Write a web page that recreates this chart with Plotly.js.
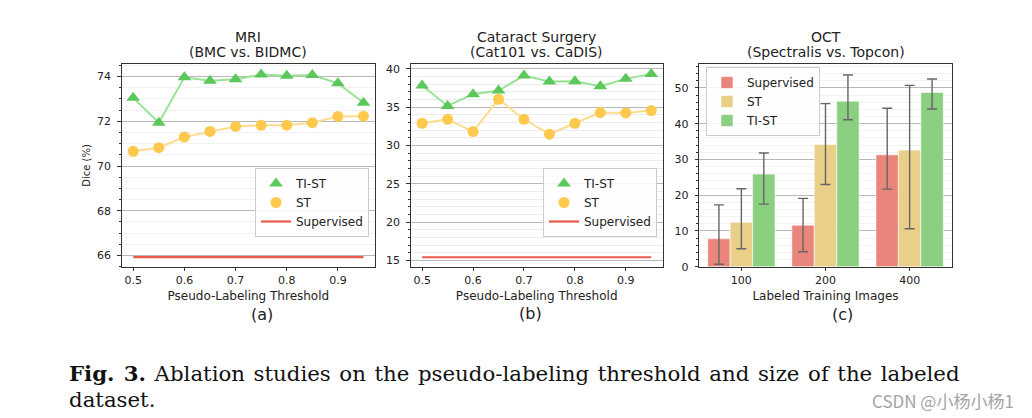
<!DOCTYPE html>
<html>
<head>
<meta charset="utf-8">
<script src="https://cdn.plot.ly/plotly-3.0.1.min.js"></script>
<style>
html,body{margin:0;padding:0;background:#fff;}
#chart{width:1032px;height:418px;}
</style>
</head>
<body>
<div id="chart"></div>
<script>
// ---------- data ----------
const thresholds = [0.5, 0.55, 0.6, 0.65, 0.7, 0.75, 0.8, 0.85, 0.9, 0.95];
const thresholdTicks = [0.5, 0.6, 0.7, 0.8, 0.9];
const thresholdTickText = ['0.5', '0.6', '0.7', '0.8', '0.9'];

const mriTIST = [73.05, 71.94, 73.97, 73.82, 73.88, 74.09, 74.04, 74.07, 73.70, 72.83];
const mriST = [70.66, 70.82, 71.30, 71.55, 71.77, 71.82, 71.83, 71.94, 72.22, 72.23];
const mriSupervised = [65.93, 65.93, 65.93, 65.93, 65.93, 65.93, 65.93, 65.93, 65.93, 65.93];
const mriTicks = [66, 68, 70, 72, 74];

const catTIST = [37.83, 35.17, 36.70, 37.17, 39.13, 38.35, 38.39, 37.74, 38.70, 39.35];
const catST = [32.91, 33.43, 31.83, 36.04, 33.43, 31.48, 32.91, 34.30, 34.26, 34.57];
const catSupervised = [15.43, 15.43, 15.43, 15.43, 15.43, 15.43, 15.43, 15.43, 15.43, 15.43];
const catTicks = [15, 20, 25, 30, 35, 40];

const octSizes = ['100', '200', '400'];
const octSupervised = [7.8, 11.6, 31.3];
const octSupervisedErrPlus = [9.5, 7.5, 13.0];
const octSupervisedErrMinus = [7.1, 7.4, 9.6];
const octST = [12.4, 34.2, 32.6];
const octSTErrPlus = [9.4, 11.4, 18.1];
const octSTErrMinus = [7.4, 11.2, 22.0];
const octTIST = [25.9, 46.3, 48.7];
const octTISTErrPlus = [5.9, 7.3, 3.8];
const octTISTErrMinus = [8.4, 5.2, 4.6];
const octTicks = [0, 10, 20, 30, 40, 50];

// ---------- styles ----------
const FONT = 'DejaVu Sans, sans-serif';
const SERIF = 'DejaVu Serif, serif';
const GREEN_M = '#5cc85c', GREEN_L = '#98e294';
const YEL_M = '#ffc94d', YEL_L = '#fcdd90';
const RED_L = '#ec5a4e';
const BAR_RED = '#e9857b', BAR_YEL = '#eacf88', BAR_GRN = '#8bcf80';
const SPINE = '#333333';
const TXT = '#222222';

function lineTraces(xa, ya, tist, st, sup, legendId) {
  return [
    {x: thresholds, y: sup, xaxis: xa, yaxis: ya, type: 'scatter', mode: 'lines',
     line: {color: RED_L, width: 2.2}, name: 'Supervised', legend: legendId, legendrank: 3},
    {x: thresholds, y: st, xaxis: xa, yaxis: ya, type: 'scatter', mode: 'lines',
     line: {color: YEL_L, width: 2}, showlegend: false, hoverinfo: 'skip'},
    {x: thresholds, y: tist, xaxis: xa, yaxis: ya, type: 'scatter', mode: 'lines',
     line: {color: GREEN_L, width: 2}, showlegend: false, hoverinfo: 'skip'},
    {x: thresholds, y: st, xaxis: xa, yaxis: ya, type: 'scatter', mode: 'markers',
     marker: {symbol: 'circle', size: 11, color: YEL_M}, name: 'ST', legend: legendId, legendrank: 2},
    {x: thresholds, y: tist, xaxis: xa, yaxis: ya, type: 'scatter', mode: 'markers',
     marker: {symbol: 'triangle-up', size: 12, color: GREEN_M}, name: 'TI-ST', legend: legendId, legendrank: 1}
  ];
}

const errStyle = {color: '#666666', thickness: 1.4, width: 5};
const barEdge = {color: 'rgba(255,255,255,0.6)', width: 1};

const data = [
  ...lineTraces('x', 'y', mriTIST, mriST, mriSupervised, 'legend'),
  ...lineTraces('x2', 'y2', catTIST, catST, catSupervised, 'legend2'),
  {x: octSizes, y: octSupervised, xaxis: 'x3', yaxis: 'y3', type: 'bar', name: 'Supervised', legend: 'legend3',
   marker: {color: BAR_RED, line: barEdge},
   error_y: Object.assign({type: 'data', symmetric: false, array: octSupervisedErrPlus, arrayminus: octSupervisedErrMinus}, errStyle)},
  {x: octSizes, y: octST, xaxis: 'x3', yaxis: 'y3', type: 'bar', name: 'ST', legend: 'legend3',
   marker: {color: BAR_YEL, line: barEdge},
   error_y: Object.assign({type: 'data', symmetric: false, array: octSTErrPlus, arrayminus: octSTErrMinus}, errStyle)},
  {x: octSizes, y: octTIST, xaxis: 'x3', yaxis: 'y3', type: 'bar', name: 'TI-ST', legend: 'legend3',
   marker: {color: BAR_GRN, line: barEdge},
   error_y: Object.assign({type: 'data', symmetric: false, array: octTISTErrPlus, arrayminus: octTISTErrMinus}, errStyle)}
];

const W = 1032, H = 418;
const px = v => v / W;
const py = v => 1 - v / H;
const yDom = [py(266.7), py(64.3)];

function baseX(domain, extra) {
  return Object.assign({
    domain: domain, showline: true, mirror: true, linecolor: SPINE, linewidth: 1,
    ticks: 'outside', ticklen: 3.5, tickcolor: SPINE, tickwidth: 1, ticklabelstandoff: -1.5,
    showgrid: false, zeroline: false,
    tickfont: {family: FONT, size: 11, color: TXT}
  }, extra);
}
function baseY(anchor, extra) {
  return Object.assign({
    domain: yDom, anchor: anchor, showline: true, mirror: true, linecolor: SPINE, linewidth: 1,
    ticks: 'outside', ticklen: 3.5, tickcolor: SPINE, tickwidth: 1, ticklabelstandoff: 4,
    showgrid: true, gridcolor: '#b8b8b8', gridwidth: 1, zeroline: false,
    tickfont: {family: FONT, size: 11, color: TXT}
  }, extra);
}
const xTitle = t => ({text: t, font: {family: FONT, size: 12, color: TXT}, standoff: 5});
const minorY = (dt, t0, gc) => ({dtick: dt, tick0: t0, ticks: 'outside', ticklen: 2, tickcolor: SPINE, showgrid: true, gridcolor: gc});

const legendBase = {
  bgcolor: 'rgba(255,255,255,0.85)', bordercolor: '#cccccc', borderwidth: 1,
  font: {family: FONT, size: 12, color: TXT}, xanchor: 'left', yanchor: 'top',
  tracegroupgap: 0, itemwidth: 30, traceorder: 'normal'
};

function ann(text, x, y, size, extra) {
  return Object.assign({text: text, x: px(x), y: py(y), xref: 'paper', yref: 'paper',
    xanchor: 'center', yanchor: 'middle', showarrow: false,
    font: {family: FONT, size: size, color: TXT}}, extra || {});
}

const layout = {
  width: W, height: H,
  margin: {l: 0, r: 0, t: 0, b: 0},
  paper_bgcolor: '#ffffff', plot_bgcolor: '#ffffff',
  font: {family: FONT},
  barmode: 'group', bargap: 0.2, bargroupgap: 0,
  xaxis: baseX([px(121.7), px(375)], {anchor: 'y', range: [0.4775, 0.9725],
    tickvals: thresholdTicks, ticktext: thresholdTickText, title: xTitle('Pseudo-Labeling Threshold')}),
  yaxis: baseY('x', {range: [65.5, 74.55], tickvals: mriTicks,
    minor: minorY(0.5, 66, '#f2f2f2'),
    title: {text: 'Dice (%)', font: {family: FONT, size: 10, color: TXT}, standoff: 4}}),
  xaxis2: baseX([px(410.7), px(662.7)], {anchor: 'y2', range: [0.4775, 0.9725],
    tickvals: thresholdTicks, ticktext: thresholdTickText, title: xTitle('Pseudo-Labeling Threshold')}),
  yaxis2: baseY('x2', {range: [14.2, 40.6], tickvals: catTicks, minor: minorY(1, 15, '#ececec')}),
  xaxis3: baseX([px(699.3), px(951.7)], {anchor: 'y3', type: 'category', range: [-0.5, 2.5],
    title: xTitle('Labeled Training Images')}),
  yaxis3: baseY('x3', {range: [0, 56.6], tickvals: octTicks, minor: minorY(2, 0, '#f2f2f2')}),
  legend: Object.assign({}, legendBase, {x: px(255), y: py(168)}),
  legend2: Object.assign({}, legendBase, {x: px(543), y: py(168)}),
  legend3: Object.assign({}, legendBase, {x: px(706), y: py(67)}),
  annotations: [
    ann('MRI', 248.3, 37.3, 14),
    ann('(BMC vs. BIDMC)', 248.3, 52, 14),
    ann('Cataract Surgery', 536.7, 37.3, 14),
    ann('(Cat101 vs. CaDIS)', 536.7, 52, 14),
    ann('OCT', 825.5, 37.3, 14),
    ann('(Spectralis vs. Topcon)', 825.5, 52, 14),
    ann('(a)', 262, 314, 16),
    ann('(b)', 530, 313, 16),
    ann('(c)', 842, 314, 16),
    ann('<b>Fig. 3.</b> Ablation studies on the pseudo-labeling threshold and size of the labeled', 67, 373, 21.3,
        {xanchor: 'left', align: 'left', font: {family: SERIF, size: 21.3, color: '#111'}}),
    ann('dataset.', 67, 399.5, 21.3,
        {xanchor: 'left', align: 'left', font: {family: SERIF, size: 21.3, color: '#111'}}),
    ann('CSDN @小杨小杨1', 1016, 400, 17,
        {xanchor: 'right', font: {family: 'Noto Sans CJK SC, sans-serif', size: 17, color: '#a4a4a4'}})
  ]
};

Plotly.newPlot('chart', data, layout, {displayModeBar: false, staticPlot: true}).then(gd => {
  // justify the first caption line like the typeset original
  const target = 958 - 67;
  gd.querySelectorAll('.annotation-text').forEach(t => {
    if (t.textContent.indexOf('Fig. 3.') === 0) {
      const w = t.getBBox().width;
      const spaces = (t.textContent.match(/ /g) || []).length;
      if (spaces > 0 && w < target) t.style.wordSpacing = ((target - w) / spaces).toFixed(2) + 'px';
    }
  });
});
</script>
</body>
</html>
